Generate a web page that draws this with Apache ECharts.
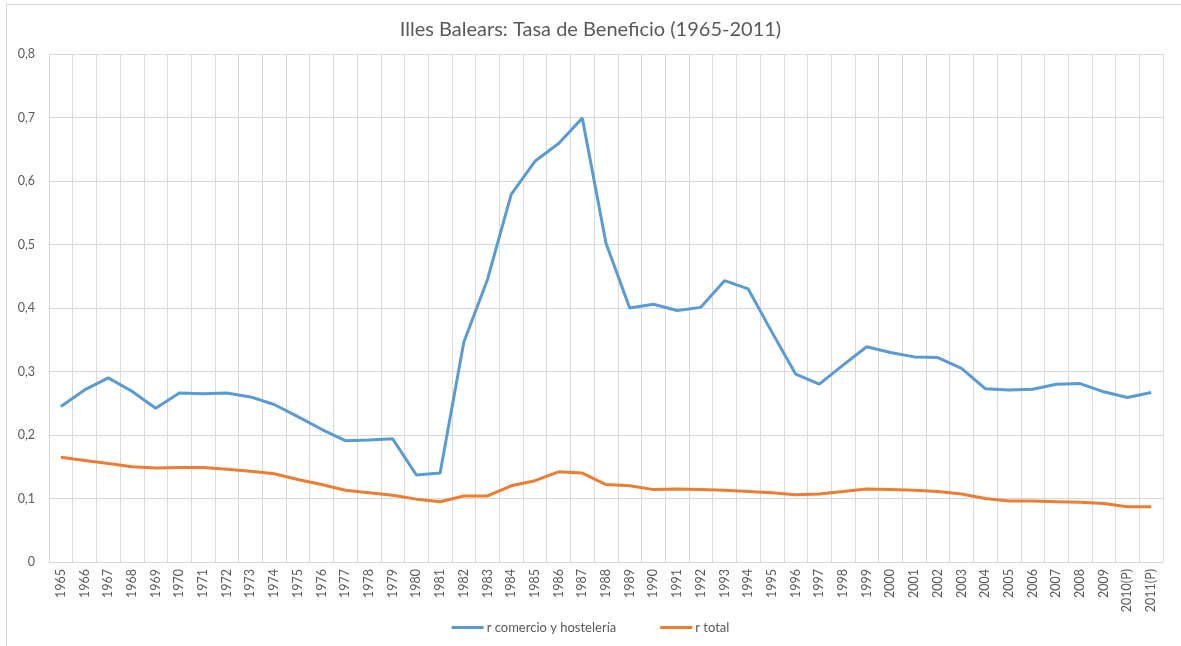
<!DOCTYPE html>
<html>
<head>
<meta charset="utf-8">
<script src="https://cdn.jsdelivr.net/npm/echarts@6/dist/echarts.min.js"></script>
<style>
html,body{margin:0;padding:0;background:#fff;}
#frame{position:absolute;left:6px;top:4px;width:1200px;height:700px;border-left:1px solid #d9d9d9;border-top:1px solid #d9d9d9;}
#chart{position:absolute;left:0;top:0;width:1181px;height:646px;}
</style>
</head>
<body>
<div id="frame"></div>
<div id="chart"></div>
<script>
var categories = ['1965','1966','1967','1968','1969','1970','1971','1972','1973','1974','1975','1976','1977','1978','1979','1980','1981','1982','1983','1984','1985','1986','1987','1988','1989','1990','1991','1992','1993','1994','1995','1996','1997','1998','1999','2000','2001','2002','2003','2004','2005','2006','2007','2008','2009','2010(P)','2011(P)'];

var comercioHosteleria = [0.245,0.271,0.290,0.269,0.242,0.266,0.265,0.266,0.260,0.248,0.229,0.209,0.191,0.192,0.194,0.137,0.140,0.346,0.445,0.579,0.631,0.659,0.699,0.502,0.400,0.406,0.396,0.401,0.443,0.430,0.362,0.296,0.280,0.310,0.339,0.330,0.323,0.322,0.305,0.273,0.271,0.272,0.280,0.281,0.268,0.259,0.267];

var rTotal = [0.165,0.160,0.155,0.150,0.148,0.149,0.149,0.146,0.143,0.139,0.130,0.122,0.113,0.109,0.105,0.099,0.095,0.104,0.104,0.120,0.128,0.142,0.140,0.122,0.120,0.114,0.115,0.114,0.113,0.111,0.109,0.106,0.107,0.111,0.115,0.114,0.113,0.111,0.107,0.100,0.096,0.096,0.095,0.094,0.092,0.087,0.087];

var seriesNames = ['r comercio y hostelería','r total'];
var titleText = 'Illes Balears: Tasa de Beneficio (1965-2011)';

var font = 'Lato, "Open Sans", sans-serif';
var chart = echarts.init(document.getElementById('chart'), null, {renderer:'canvas'});
chart.setOption({
  animation:false,
  backgroundColor:'transparent',
  title:{
    text:titleText,
    left:'center',
    top:15,
    textStyle:{fontFamily:font,fontSize:20,fontWeight:'normal',color:'#595959'}
  },
  legend:{
    bottom:7,
    left:'center',
    itemWidth:32,
    itemHeight:3,
    itemGap:44,
    icon:'rect',
    textStyle:{fontFamily:font,fontSize:13,color:'#595959',padding:[0,0,0,-2]},
    data:seriesNames
  },
  grid:{left:49,right:18,top:54,bottom:84,containLabel:false},
  xAxis:{
    type:'category',
    data:categories,
    boundaryGap:true,
    axisLine:{show:true,lineStyle:{color:'#d9d9d9',width:1}},
    axisTick:{show:false},
    axisLabel:{interval:0,rotate:90,fontFamily:font,fontSize:12.5,color:'#595959',margin:7},
    splitLine:{show:true,interval:0,lineStyle:{color:'#d9d9d9',width:1}}
  },
  yAxis:{
    type:'value',
    min:0,max:0.8,interval:0.1,
    axisLine:{show:false},
    axisTick:{show:false},
    axisLabel:{fontFamily:font,fontSize:12.5,color:'#595959',margin:14,
      formatter:function(v){return v===0?'0':v.toFixed(1).replace('.',',');}},
    splitLine:{show:true,lineStyle:{color:'#d9d9d9',width:1}}
  },
  series:[
    {name:seriesNames[0],type:'line',data:comercioHosteleria,symbol:'none',
      lineStyle:{color:'#5B9BD5',width:3},itemStyle:{color:'#5B9BD5'}},
    {name:seriesNames[1],type:'line',data:rTotal,symbol:'none',
      lineStyle:{color:'#ED7D31',width:3},itemStyle:{color:'#ED7D31'}}
  ]
});
</script>
</body>
</html>
